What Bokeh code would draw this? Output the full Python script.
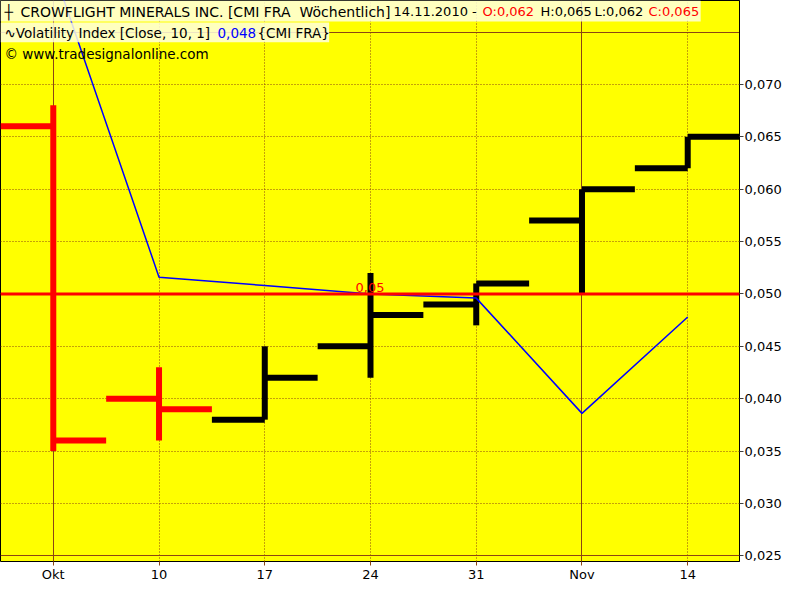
import pandas as pd
from bokeh.plotting import figure
from bokeh.models import (FixedTicker, CustomJSTickFormatter, Range1d, Span, Grid,
                          Label, BoxAnnotation)
from bokeh.embed import file_html
from bokeh.resources import INLINE

# ---------------- data ----------------
dates = ["2010-10-03", "2010-10-10", "2010-10-17", "2010-10-24",
         "2010-10-31", "2010-11-07", "2010-11-14"]
opens = [0.066, 0.040, 0.038, 0.045, 0.049, 0.057, 0.062]
highs = [0.068, 0.043, 0.045, 0.052, 0.051, 0.060, 0.065]
lows = [0.035, 0.036, 0.038, 0.042, 0.047, 0.050, 0.062]
closes = [0.036, 0.039, 0.042, 0.048, 0.051, 0.060, 0.065]
volatility = [0.081, 0.0516, 0.0508, 0.0500, 0.0496, 0.0386, 0.0478]
x_tick_labels = ["Okt", "10", "17", "24", "31", "Nov", "14"]
month_start = [True, False, False, False, False, True, False]
price_ticks = [0.025, 0.030, 0.035, 0.040, 0.045, 0.050, 0.055, 0.060, 0.065, 0.070]
price_major_grid = [0.025, 0.075]
ref_level = 0.050
ref_label = "0,05"

# ---------------- derived ----------------
d = pd.to_datetime(dates)
days = [int((t - d[0]).days) for t in d]
half_week = 3.5
colors = ["#FF0000" if c < o else "#000000" for o, c in zip(opens, closes)]

W, H = 784, 584
RB, BB = 42, 20
FW, FH = W - RB, H - BB
PX_PER_DAY = 15.167
PX_PER_UNIT = 10533.0
X0 = -53 / PX_PER_DAY
X1 = X0 + FW / PX_PER_DAY
Y1 = 0.050 + 295 / PX_PER_UNIT
Y0 = Y1 - FH / PX_PER_UNIT

BROWN = "#8B4513"
YELLOW = "#FFFF00"
FONT = "DejaVu Sans"

p = figure(width=W, height=H, output_backend="svg", toolbar_location=None,
           x_range=Range1d(X0, X1), y_range=Range1d(Y0, Y1),
           y_axis_location="right",
           min_border_left=0, min_border_top=0,
           min_border_right=RB, min_border_bottom=BB)
p.background_fill_color = YELLOW
p.border_fill_color = "white"
p.outline_line_color = "black"
p.outline_line_width = 1
p.xgrid.visible = False
p.ygrid.visible = False

# grids
minor_x = [dd for dd, m in zip(days, month_start) if not m]
major_x = [dd for dd, m in zip(days, month_start) if m]
minor_y = [t for t in price_ticks if t not in price_major_grid]
p.add_layout(Grid(dimension=0, ticker=FixedTicker(ticks=minor_x),
                  grid_line_color=BROWN, grid_line_dash="1 2", grid_line_width=1))
p.add_layout(Grid(dimension=0, ticker=FixedTicker(ticks=major_x),
                  grid_line_color=BROWN, grid_line_width=1))
p.add_layout(Grid(dimension=1, ticker=FixedTicker(ticks=minor_y),
                  grid_line_color=BROWN, grid_line_dash="1 2", grid_line_width=1))
p.add_layout(Grid(dimension=1, ticker=FixedTicker(ticks=price_major_grid),
                  grid_line_color=BROWN, grid_line_width=1))

# axes
xa = p.xaxis[0]
xa.ticker = FixedTicker(ticks=days)
xa.major_label_overrides = {dd: lab for dd, lab in zip(days, x_tick_labels)}
xa.major_label_text_align = "left"
xa.major_label_text_font = FONT
xa.major_label_text_font_size = "13px"
xa.major_label_text_color = "black"
xa.major_label_standoff = 1
xa.major_tick_in = 0
xa.major_tick_out = 4
xa.major_tick_line_color = BROWN
xa.minor_tick_line_color = None
xa.axis_line_color = None

ya = p.yaxis[0]
ya.ticker = FixedTicker(ticks=price_ticks)
ya.formatter = CustomJSTickFormatter(code="return tick.toFixed(3).replace('.', ',');")
ya.major_label_text_font = FONT
ya.major_label_text_font_size = "13px"
ya.major_label_text_color = "black"
ya.major_label_standoff = 1
ya.major_tick_in = 0
ya.major_tick_out = 4
ya.major_tick_line_color = "#404040"
ya.minor_tick_line_color = None
ya.axis_line_color = "black"

# OHLC bars
p.segment(x0=days, y0=lows, x1=days, y1=highs, line_color=colors, line_width=6)
p.segment(x0=[dd - half_week for dd in days], y0=opens, x1=days, y1=opens,
          line_color=colors, line_width=6)
p.segment(x0=days, y0=closes, x1=[dd + half_week for dd in days], y1=closes,
          line_color=colors, line_width=6)

# reference line
p.add_layout(Span(location=ref_level, dimension="width", line_color="#FF0000",
                  line_width=3))
p.add_layout(Label(x=(X0 + X1) / 2, y=ref_level, text=ref_label, text_color="#FF0000",
                   text_align="center", text_baseline="bottom", y_offset=2,
                   text_font=FONT, text_font_size="13px"))

# volatility line
p.line(days, volatility, line_color="#0000FF", line_width=1.5)


# header
def px2x(px):
    return X0 + px / PX_PER_DAY


def py2y(py):
    return Y1 - py / PX_PER_UNIT


p.add_layout(BoxAnnotation(left=X0, right=px2x(703), top=Y1, bottom=py2y(21),
                           fill_color="#FFFFE0", fill_alpha=0.85, line_color=None))
p.add_layout(BoxAnnotation(left=X0, right=px2x(330), top=py2y(22), bottom=py2y(42),
                           fill_color="#FFFFE0", fill_alpha=0.85, line_color=None))


def hdr(text, px, py, color="black", size="14px"):
    p.add_layout(Label(x=X0, y=Y1, x_offset=px, y_offset=-py, text=text,
                       text_color=color, text_font=FONT, text_font_size=size,
                       text_align="left", text_baseline="middle"))


hdr("\u253C", 4, 11)
hdr("CROWFLIGHT MINERALS INC. [CMI FRA \u00a0W\u00f6chentlich]", 20, 11)
hdr("14.11.2010 -", 393, 11, size="13px")
hdr("O:0,062", 482, 11, "#FF0000", size="13px")
hdr("H:0,065", 540, 11, size="13px")
hdr("L:0,062", 594, 11, size="13px")
hdr("C:0,065", 648, 11, "#FF0000", size="13px")
hdr("\u223FVolatility Index [Close, 10, 1]", 4, 32, size="13.5px")
hdr("0,048", 217, 32, "#0000FF", size="13.5px")
hdr("{CMI FRA}", 257, 32, size="13.5px")
hdr("\u00a9 www.tradesignalonline.com", 4, 53, size="13.5px")

p.add_layout(Label(x=X1, y=Y1, x_offset=7, y_offset=-12, text="\u20ac",
                   text_color="black", text_font=FONT, text_font_size="13px",
                   text_align="left", text_baseline="middle"))

open("out.html", "w").write(file_html(p, INLINE))
